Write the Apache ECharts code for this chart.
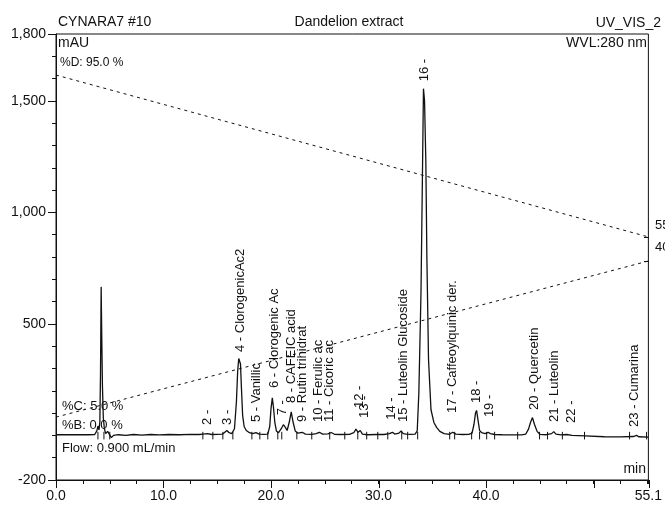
<!DOCTYPE html>
<html><head><meta charset="utf-8">
<script src="https://cdn.jsdelivr.net/npm/echarts@6/dist/echarts.min.js"></script>
<style>html,body{margin:0;padding:0;background:#fff}#c{width:665px;height:505px}</style>
</head><body><div id="c"></div>
<script>
// Chromatogram trace: [time (min), absorbance (mAU)]
const trace = [
[0,3],[1.5,3],[3.0,3],[3.6,4],[3.8,20],[3.9,42],[4.0,25],[4.08,60],[4.14,280],[4.2,666],[4.26,430],[4.32,220],[4.4,80],[4.5,30],[4.62,8],[4.8,18],[4.92,22],[5.0,2],[5.15,-10],[5.35,0],[5.8,3],[6.5,0],[7.2,4],[8.0,1],[8.8,4],[9.6,2],[10.5,4],[11.5,3],[12.5,5],[13.3,4],[13.7,6],[14.1,8],[14.5,4],[15.0,5],[15.5,6],[15.9,22],[16.1,12],[16.35,8],[16.6,30],[16.78,150],[16.9,290],[17.0,345],[17.08,352],[17.16,320],[17.25,210],[17.36,90],[17.5,40],[17.7,22],[18.0,12],[18.3,8],[18.6,12],[18.9,6],[19.3,5],[19.7,6],[19.88,40],[20.0,120],[20.12,168],[20.22,130],[20.35,60],[20.5,20],[20.7,12],[20.95,30],[21.15,48],[21.35,35],[21.5,22],[21.7,60],[21.88,105],[22.05,60],[22.25,20],[22.5,10],[22.9,14],[23.2,6],[23.8,5],[24.2,8],[24.5,14],[24.8,6],[25.3,7],[25.6,13],[25.9,5],[26.5,4],[27.3,5],[27.7,12],[27.9,28],[28.1,14],[28.3,22],[28.5,6],[29.0,3],[29.8,4],[30.5,4],[31.0,8],[31.3,14],[31.5,6],[31.9,10],[32.1,20],[32.3,8],[32.6,6],[33.0,5],[33.4,6],[33.6,20],[33.75,190],[33.95,640],[34.08,1150],[34.18,1555],[34.28,1500],[34.4,1230],[34.5,790],[34.65,340],[34.88,115],[35.15,58],[35.4,36],[35.7,18],[36.1,8],[36.6,5],[36.9,14],[37.2,6],[37.8,4],[38.4,5],[38.7,10],[38.88,50],[39.02,100],[39.12,112],[39.25,70],[39.4,22],[39.6,12],[39.9,8],[40.2,14],[40.4,8],[40.8,4],[41.5,3],[42.5,2],[43.3,2],[43.7,6],[43.95,28],[44.15,60],[44.32,80],[44.5,50],[44.75,18],[45.0,5],[45.6,3],[46.1,8],[46.3,17],[46.5,6],[47.0,2],[47.5,4],[48.0,0],[49.2,-2],[49.3,-6],[51.0,-6],[52.5,-7],[53.7,-5],[54.0,0],[54.2,-6],[55.1,-8]
];
// Gradient profile lines, drawn on the mAU scale: [time, level]
const gradD = [[0,1616],[55.1,890]];
const gradC = [[0,82],[55.1,782]];
// Peak labels: [time, label start level, text]
const peakLabels = [
[14.13,47,'2 -'],[15.99,47,'3 -'],[17.2,374,'4 - ClorogenicAc2'],[18.68,60,'5 - Vanillic'],
[20.3,212,'6 - Clorogenic Ac'],[21.1,90,'7 -'],[21.93,145,'8 - CAFEIC acid'],[22.96,60,'9 - Rutin trihidrat'],
[24.44,60,'10 - Ferulic ac'],[25.46,60,'11 - Cicoric ac'],[28.2,123,'12 -'],[28.65,78,'13 -'],
[31.23,70,'14 -'],[32.34,60,'15 - Luteolin Glucoside'],[34.29,1588,'16 -'],[36.9,100,'17 - Caffeoylquinic der.'],
[39.13,145,'18 -'],[40.33,82,'19 -'],[44.52,114,'20 - Quercetin'],[46.38,60,'21 - Luteolin'],
[47.96,56,'22 -'],[53.81,38,'23 - Cumarina']
];
// Integration delimiter marks along the baseline (min)
const delimiterTimes = [3.9,4.46,5.0,13.66,14.59,15.52,16.45,18.22,18.96,19.7,20.63,21.0,22.4,23.79,25.46,26.86,28.07,28.9,29.93,30.86,32.16,32.71,33.64,36.62,37.08,38.66,39.4,40.06,40.8,42.94,44.98,45.72,47.1,49.16,53.35,54.93];
const xLabelValues = [0,10,20,30,40,55.1];
const xMajorTicks = [0,10,20,30,40,50,55.1];
const yLabelValues = [-200,500,1000,1500,1800];

const FONT = '"Liberation Sans", Arial, sans-serif';
const INK = '#111';
const chart = echarts.init(document.getElementById('c'));
const gridRect = {left:56, right:16, top:34, bottom:25};
const lineStyle = {color:INK, width:1};

function txt(text, x, y, size, align){
  return {type:'text', x:x, y:y, silent:true,
    style:{text:text, font: size+'px '+FONT, fill:INK, textAlign:align||'left', textVerticalAlign:'middle'}};
}

chart.setOption({
  animation:false,
  backgroundColor:'#fff',
  grid:[Object.assign({show:true, borderColor:INK, borderWidth:1}, gridRect), Object.assign({}, gridRect)],
  xAxis:[
    {gridIndex:0, type:'value', min:0, max:55.1, interval:2.5,
     axisLine:{show:true, onZero:false, lineStyle:lineStyle},
     axisTick:{show:true, length:4, lineStyle:lineStyle},
     axisLabel:{customValues:xLabelValues, formatter:v=>Number(v).toFixed(1), fontSize:14, fontFamily:FONT, color:INK, margin:9},
     splitLine:{show:false}},
    {gridIndex:1, type:'value', min:0, max:55.1,
     axisLine:{show:false, onZero:false},
     axisTick:{show:true, customValues:xMajorTicks, length:8, lineStyle:lineStyle},
     axisLabel:{show:false}, splitLine:{show:false}}
  ],
  yAxis:[
    {gridIndex:0, type:'value', min:-200, max:1800, interval:100,
     axisLine:{show:true, onZero:false, lineStyle:lineStyle},
     axisTick:{show:true, length:4, lineStyle:lineStyle},
     axisLabel:{customValues:yLabelValues, formatter:v=>Number(v).toLocaleString('en-US'), fontSize:14, fontFamily:FONT, color:INK, margin:10},
     splitLine:{show:false}},
    {gridIndex:1, type:'value', min:-200, max:1800, position:'left',
     axisLine:{show:false, onZero:false},
     axisTick:{show:true, customValues:yLabelValues, length:8, lineStyle:lineStyle},
     axisLabel:{show:false}, splitLine:{show:false}},
    {gridIndex:1, type:'value', min:-200, max:1800, position:'right',
     axisLine:{show:false, onZero:false},
     axisTick:{show:true, inside:true, customValues:[gradD[gradD.length-1][1], gradC[gradC.length-1][1]], length:5, lineStyle:lineStyle},
     axisLabel:{show:false}, splitLine:{show:false}}
  ],
  series:[
    {type:'line', xAxisIndex:0, yAxisIndex:0, data:gradD, showSymbol:false, silent:true,
     lineStyle:{color:INK, width:1, type:[3,4]}, z:2},
    {type:'line', xAxisIndex:0, yAxisIndex:0, data:gradC, showSymbol:false, silent:true,
     lineStyle:{color:INK, width:1, type:[3,4]}, z:2},
    {type:'custom', xAxisIndex:0, yAxisIndex:0, silent:true, z:3,
     data:delimiterTimes.map(t=>[t,0]), encode:{x:0,y:1},
     renderItem:(params, api)=>{
       const a = api.coord([api.value(0), 16]);
       const b = api.coord([api.value(0), -18]);
       return {type:'line', shape:{x1:a[0], y1:a[1], x2:b[0], y2:b[1]}, style:{stroke:INK, lineWidth:1}};
     }},
    {type:'line', xAxisIndex:0, yAxisIndex:0, data:trace, showSymbol:false, silent:true,
     lineStyle:{color:INK, width:1.3}, z:4},
    {type:'custom', xAxisIndex:0, yAxisIndex:0, silent:true, z:5, clip:false,
     data:peakLabels.map(d=>[d[0], d[1]]), encode:{x:0,y:1},
     renderItem:(params, api)=>{
       const p = api.coord([api.value(0), api.value(1)]);
       return {type:'text', x:p[0], y:p[1], rotation:Math.PI/2,
         style:{text:peakLabels[params.dataIndex][2], font:'13px '+FONT, fill:INK, textAlign:'left', textVerticalAlign:'middle'}};
     }}
  ],
  graphic:[
    txt('CYNARA7 #10', 58, 22, 14),
    txt('Dandelion extract', 349, 22, 14, 'center'),
    txt('UV_VIS_2', 661, 23, 14, 'right'),
    txt('mAU', 58, 43, 14),
    txt('WVL:280 nm', 647, 43, 14, 'right'),
    txt('%D: 95.0 %', 60, 63, 12),
    txt('%C: 5.0 %', 62, 406, 13),
    txt('%B: 0.0 %', 62, 425, 13),
    txt('Flow: 0.900 mL/min', 62, 448, 13),
    txt('min', 646, 469, 14, 'right'),
    txt('55', 655, 225, 13),
    txt('40', 655, 247, 13)
  ]
});
</script></body></html>
